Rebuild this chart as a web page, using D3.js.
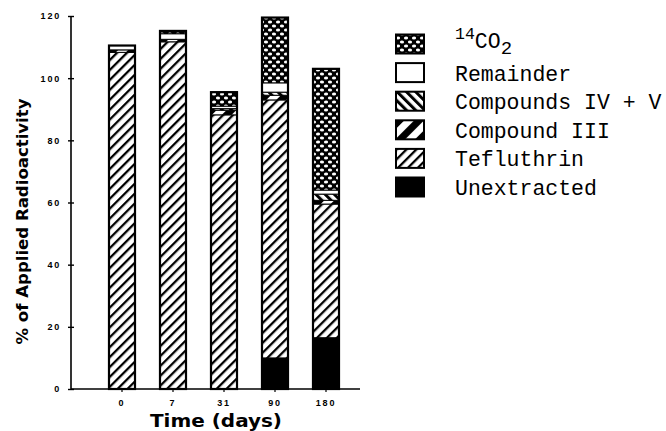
<!DOCTYPE html>
<html>
<head>
<meta charset="utf-8">
<script src="https://cdn.jsdelivr.net/npm/d3@7"></script>
<style>
  html, body { margin: 0; padding: 0; background: #fff; }
  svg { display: block; }
</style>
</head>
<body>
<svg id="chart" width="666" height="431"></svg>
<script>
// Sampling times (days after application)
const categories = ["0", "7", "31", "90", "180"];

// Radioactivity fractions, % of applied, stacked bottom to top
const unextracted   = [0,    0,    0,    10,   16.5];
const tefluthrin    = [108.3, 111.7, 88.2, 83,  43];
const compoundIII   = [0.8,  0.8,  1.5,  1.5,  1.2];
const compoundsIVV  = [0,    0,    0.5,  1,    2];
const remainder     = [1.4,  1.8,  0.8,  3,    1.3];
const co2           = [0,    0.9,  4.5,  21,   39];

const yTicks = [0, 20, 40, 60, 80, 100, 120];

const seriesKeys = ["unextracted", "tefluthrin", "compoundIII", "compoundsIVV", "remainder", "co2"];
const seriesData = { unextracted, tefluthrin, compoundIII, compoundsIVV, remainder, co2 };

// Legend entries, listed top to bottom
const legendKeys = ["co2", "remainder", "compoundsIVV", "compoundIII", "tefluthrin", "unextracted"];
const legendLabels = {
  co2: null,
  remainder: "Remainder",
  compoundsIVV: "Compounds IV + V",
  compoundIII: "Compound III",
  tefluthrin: "Tefluthrin",
  unextracted: "Unextracted"
};

const rows = categories.map((c, i) => {
  const r = { day: c };
  seriesKeys.forEach(k => r[k] = seriesData[k][i]);
  return r;
});

const svg = d3.select("#chart");
const defs = svg.append("defs");

// Fill patterns
const pTef = defs.append("pattern").attr("id", "pat-tef")
  .attr("patternUnits", "userSpaceOnUse").attr("width", 7).attr("height", 7)
  .attr("patternTransform", "rotate(45)");
pTef.append("rect").attr("width", 7).attr("height", 7).attr("fill", "#fff");
pTef.append("rect").attr("x", 0).attr("y", 0).attr("width", 2.3).attr("height", 7).attr("fill", "#000");

const pIV = defs.append("pattern").attr("id", "pat-iv")
  .attr("patternUnits", "userSpaceOnUse").attr("width", 6.5).attr("height", 6.5)
  .attr("patternTransform", "rotate(-45)");
pIV.append("rect").attr("width", 6.5).attr("height", 6.5).attr("fill", "#fff");
pIV.append("rect").attr("width", 3).attr("height", 6.5).attr("fill", "#000");

const pIII = defs.append("pattern").attr("id", "pat-iii")
  .attr("patternUnits", "userSpaceOnUse").attr("width", 14).attr("height", 14)
  .attr("patternTransform", "rotate(45)");
pIII.append("rect").attr("width", 14).attr("height", 14).attr("fill", "#fff");
pIII.append("rect").attr("width", 7).attr("height", 14).attr("fill", "#000");

const pCO2 = defs.append("pattern").attr("id", "pat-co2")
  .attr("patternUnits", "userSpaceOnUse").attr("width", 8).attr("height", 8);
pCO2.append("rect").attr("width", 8).attr("height", 8).attr("fill", "#000");
pCO2.append("ellipse").attr("cx", 2).attr("cy", 2).attr("rx", 2.1).attr("ry", 1.6).attr("fill", "#fff");
pCO2.append("ellipse").attr("cx", 6).attr("cy", 6).attr("rx", 2.1).attr("ry", 1.6).attr("fill", "#fff");

const fills = {
  unextracted: "#000",
  tefluthrin: "url(#pat-tef)",
  compoundIII: "url(#pat-iii)",
  compoundsIVV: "url(#pat-iv)",
  remainder: "#fff",
  co2: "url(#pat-co2)"
};

// Scales
const x = d3.scaleBand().domain(categories)
  .range([96.5, 351.5]).paddingInner(0.49).paddingOuter(0.245);
const y = d3.scaleLinear().domain([0, 120]).range([389, 16]);
const axisLeftX = 71;
const axisRightX = 360;

// Stacked bars
const stack = d3.stack().keys(seriesKeys);
const stacked = stack(rows);

const barG = svg.append("g");
stacked.forEach(layer => {
  barG.selectAll(null).data(layer.filter(d => d[1] - d[0] > 0))
    .enter().append("rect")
    .attr("x", d => x(d.data.day))
    .attr("width", x.bandwidth())
    .attr("y", d => y(d[1]))
    .attr("height", d => y(d[0]) - y(d[1]))
    .attr("fill", fills[layer.key])
    .attr("stroke", "#000")
    .attr("stroke-width", 1);
});
// Bar outlines
barG.selectAll(null).data(stacked[stacked.length - 1])
  .enter().append("rect")
  .attr("x", d => x(d.data.day))
  .attr("width", x.bandwidth())
  .attr("y", d => y(d[1]))
  .attr("height", d => y(0) - y(d[1]))
  .attr("fill", "none")
  .attr("stroke", "#000")
  .attr("stroke-width", 2.2);

const tickFont = "Liberation Sans, Arial, sans-serif";

// Y axis with ticks crossing the axis line
const yAxis = svg.append("g")
  .attr("transform", `translate(${axisLeftX},0)`)
  .call(d3.axisLeft(y).tickValues(yTicks).tickSize(3).tickPadding(7));
yAxis.select(".domain").attr("stroke-width", 1.6).attr("d", `M0,${y(0)}V${y(120)}`);
yAxis.selectAll(".tick line").attr("x1", 3).attr("x2", -3).attr("stroke-width", 1.4);
yAxis.selectAll(".tick text")
  .attr("font-family", tickFont)
  .attr("font-weight", "bold").attr("font-size", 9)
  .attr("letter-spacing", 1.8).attr("fill", "#000");

// X axis
const xAxis = svg.append("g")
  .attr("transform", `translate(0,${y(0)})`)
  .call(d3.axisBottom(x).tickSize(3).tickPadding(8));
xAxis.select(".domain").attr("stroke-width", 1.6).attr("d", `M${axisLeftX},0H${axisRightX}`);
xAxis.selectAll(".tick line").attr("stroke-width", 1.2);
xAxis.selectAll(".tick text")
  .attr("font-family", tickFont)
  .attr("font-weight", "bold").attr("font-size", 9)
  .attr("letter-spacing", 1.8).attr("fill", "#000");

// Axis titles
svg.append("text")
  .attr("x", 216).attr("y", 427)
  .attr("text-anchor", "middle")
  .attr("font-family", "DejaVu Sans, sans-serif")
  .attr("font-weight", "bold").attr("font-size", 18)
  .attr("textLength", 132).attr("lengthAdjust", "spacingAndGlyphs")
  .text("Time (days)");

svg.append("text")
  .attr("transform", `translate(28,${(y(0) + y(120)) / 2 + 19}) rotate(-90)`)
  .attr("text-anchor", "middle")
  .attr("font-family", "DejaVu Sans, sans-serif")
  .attr("font-weight", "bold").attr("font-size", 16)
  .attr("textLength", 246).attr("lengthAdjust", "spacingAndGlyphs")
  .text("% of Applied Radioactivity");

// Legend
const legendY = d3.scalePoint().domain(legendKeys).range([44, 187]);
const legendFont = "Liberation Mono, Courier New, monospace";
const leg = svg.append("g");
legendKeys.forEach(k => {
  const cy = legendY(k);
  leg.append("rect")
    .attr("x", 396).attr("y", cy - 9.5)
    .attr("width", 28).attr("height", 19)
    .attr("fill", fills[k]).attr("stroke", "#000").attr("stroke-width", 2);
  if (legendLabels[k]) {
    leg.append("text")
      .attr("x", 455).attr("y", cy + 8)
      .attr("font-family", legendFont)
      .attr("font-size", 21.5).attr("fill", "#000")
      .text(legendLabels[k]);
  } else {
    const t = leg.append("text")
      .attr("x", 455).attr("y", cy + 4)
      .attr("font-family", legendFont)
      .attr("font-size", 21.5).attr("fill", "#000");
    t.append("tspan").attr("font-size", 16.5).attr("dy", -9).text("14");
    t.append("tspan").attr("dy", 9).text("CO");
    t.append("tspan").attr("font-size", 19).attr("dy", 6).text("2");
  }
});
</script>
</body>
</html>
